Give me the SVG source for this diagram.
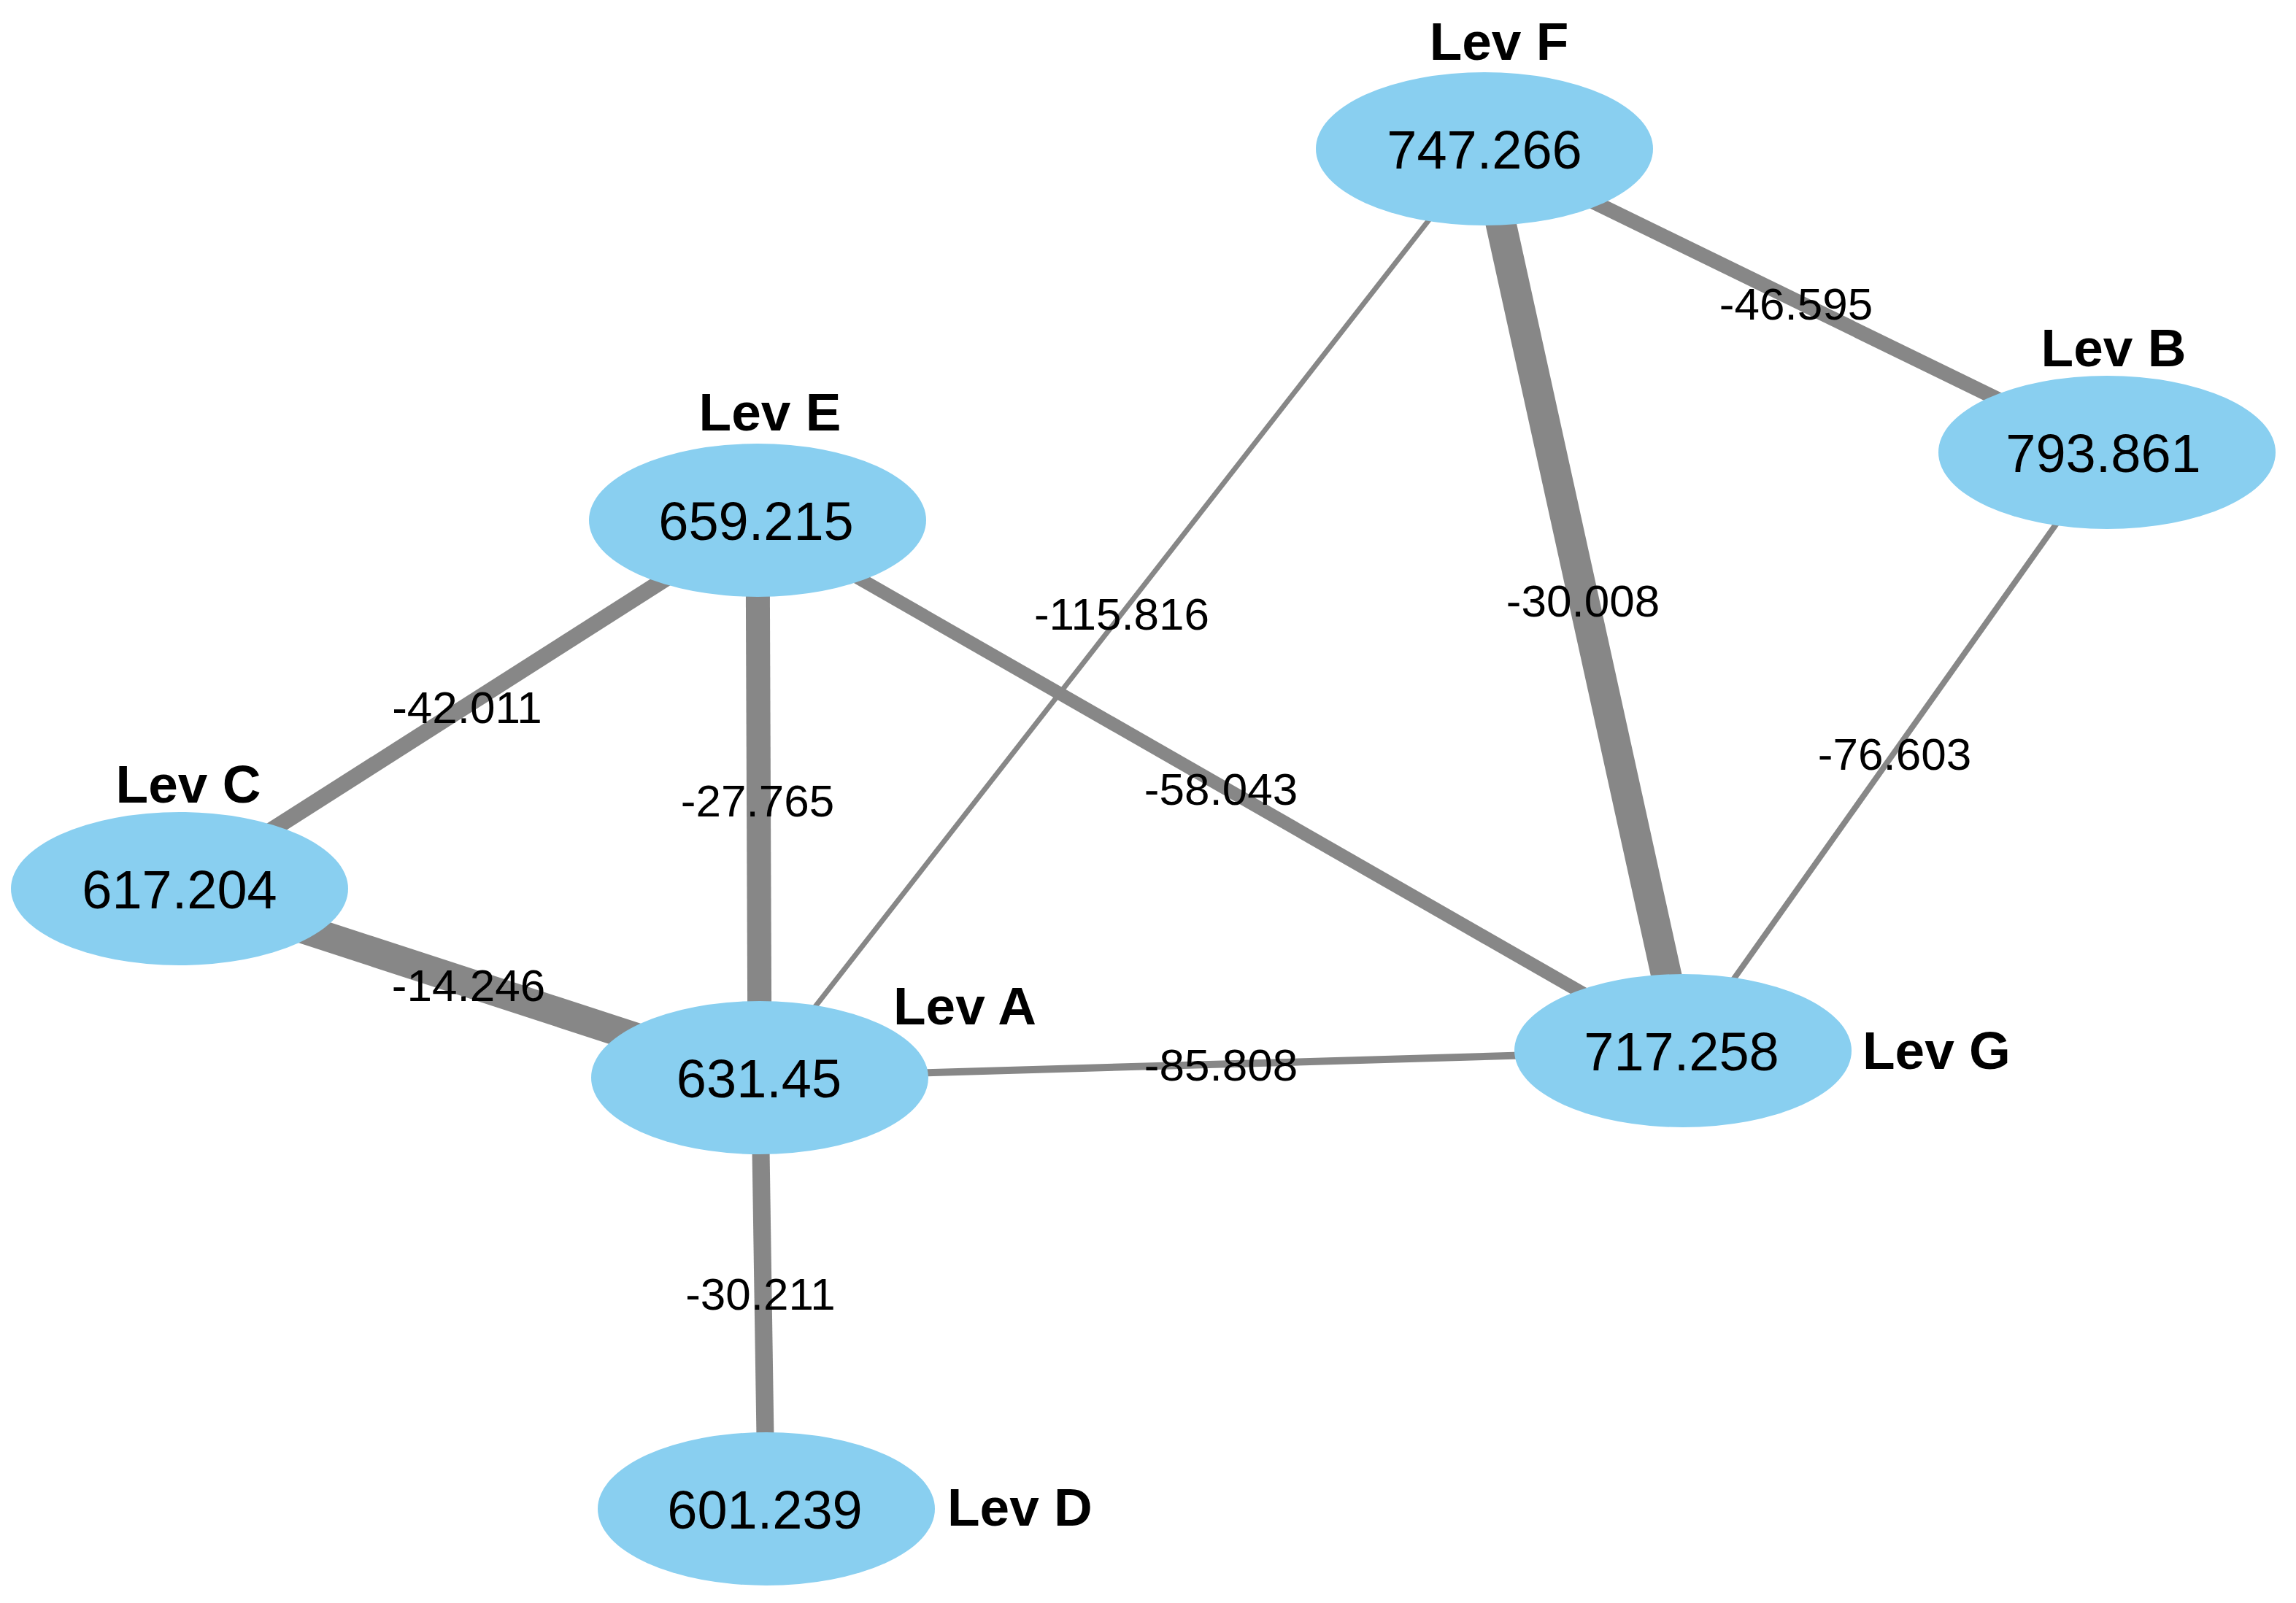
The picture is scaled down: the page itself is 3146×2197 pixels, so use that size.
<svg xmlns="http://www.w3.org/2000/svg" width="3146" height="2197" viewBox="0 0 3146 2197">
<style>
.e{stroke:#878787;stroke-linecap:butt;fill:none}
.el{font-family:"Liberation Sans",Arial,sans-serif;font-size:62px;fill:#000;text-anchor:middle}
.n{fill:#89CFF0}
.nv{font-family:"Liberation Sans",Arial,sans-serif;font-size:74px;fill:#000;text-anchor:middle}
.nl{font-family:"Liberation Sans",Arial,sans-serif;font-size:73px;font-weight:bold;fill:#000}
</style>
<rect width="3146" height="2197" fill="#ffffff"/>
<g id="connectors">
<line class="e" x1="2034" y1="204" x2="2887" y2="620" stroke-width="20"/>
<line class="e" x1="2034" y1="204" x2="2306" y2="1440" stroke-width="42"/>
<line class="e" x1="2034" y1="204" x2="1041" y2="1477" stroke-width="7"/>
<line class="e" x1="2887" y1="620" x2="2306" y2="1440" stroke-width="8"/>
<line class="e" x1="1038" y1="713" x2="246" y2="1218" stroke-width="22"/>
<line class="e" x1="1038" y1="713" x2="1041" y2="1477" stroke-width="33"/>
<line class="e" x1="1038" y1="713" x2="2306" y2="1440" stroke-width="18"/>
<line class="e" x1="246" y1="1218" x2="1041" y2="1477" stroke-width="40"/>
<line class="e" x1="1041" y1="1477" x2="2306" y2="1440" stroke-width="10"/>
<line class="e" x1="1041" y1="1477" x2="1050" y2="2068" stroke-width="24"/>
<text class="el" x="2461" y="438">-46.595</text>
<text class="el" x="1537" y="863">-115.816</text>
<text class="el" x="2169" y="845">-30.008</text>
<text class="el" x="640" y="991">-42.011</text>
<text class="el" x="1038" y="1119">-27.765</text>
<text class="el" x="1673" y="1103">-58.043</text>
<text class="el" x="2596" y="1055">-76.603</text>
<text class="el" x="642" y="1372">-14.246</text>
<text class="el" x="1673" y="1481">-85.808</text>
<text class="el" x="1042" y="1795">-30.211</text>
</g>
<g id="node-F">
<ellipse class="n" cx="2034" cy="204" rx="231" ry="105"/>
<text class="nv" x="2034" y="231">747.266</text>
<text class="nl" x="2054" y="82" text-anchor="middle">Lev F</text>
</g>
<g id="node-B">
<ellipse class="n" cx="2887" cy="620" rx="231" ry="105"/>
<text class="nv" x="2882" y="647">793.861</text>
<text class="nl" x="2896" y="502" text-anchor="middle">Lev B</text>
</g>
<g id="node-E">
<ellipse class="n" cx="1038" cy="713" rx="231" ry="105"/>
<text class="nv" x="1036" y="740">659.215</text>
<text class="nl" x="1055" y="590" text-anchor="middle">Lev E</text>
</g>
<g id="node-C">
<ellipse class="n" cx="246" cy="1218" rx="231" ry="105"/>
<text class="nv" x="246" y="1245">617.204</text>
<text class="nl" x="258" y="1100" text-anchor="middle">Lev C</text>
</g>
<g id="node-A">
<ellipse class="n" cx="1041" cy="1477" rx="231" ry="105"/>
<text class="nv" x="1040" y="1504">631.45</text>
<text class="nl" x="1224" y="1404">Lev A</text>
</g>
<g id="node-G">
<ellipse class="n" cx="2306" cy="1440" rx="231" ry="105"/>
<text class="nv" x="2304" y="1467">717.258</text>
<text class="nl" x="2552" y="1465">Lev G</text>
</g>
<g id="node-D">
<ellipse class="n" cx="1050" cy="2068" rx="231" ry="105"/>
<text class="nv" x="1048" y="2095">601.239</text>
<text class="nl" x="1298" y="2091">Lev D</text>
</g>
</svg>
